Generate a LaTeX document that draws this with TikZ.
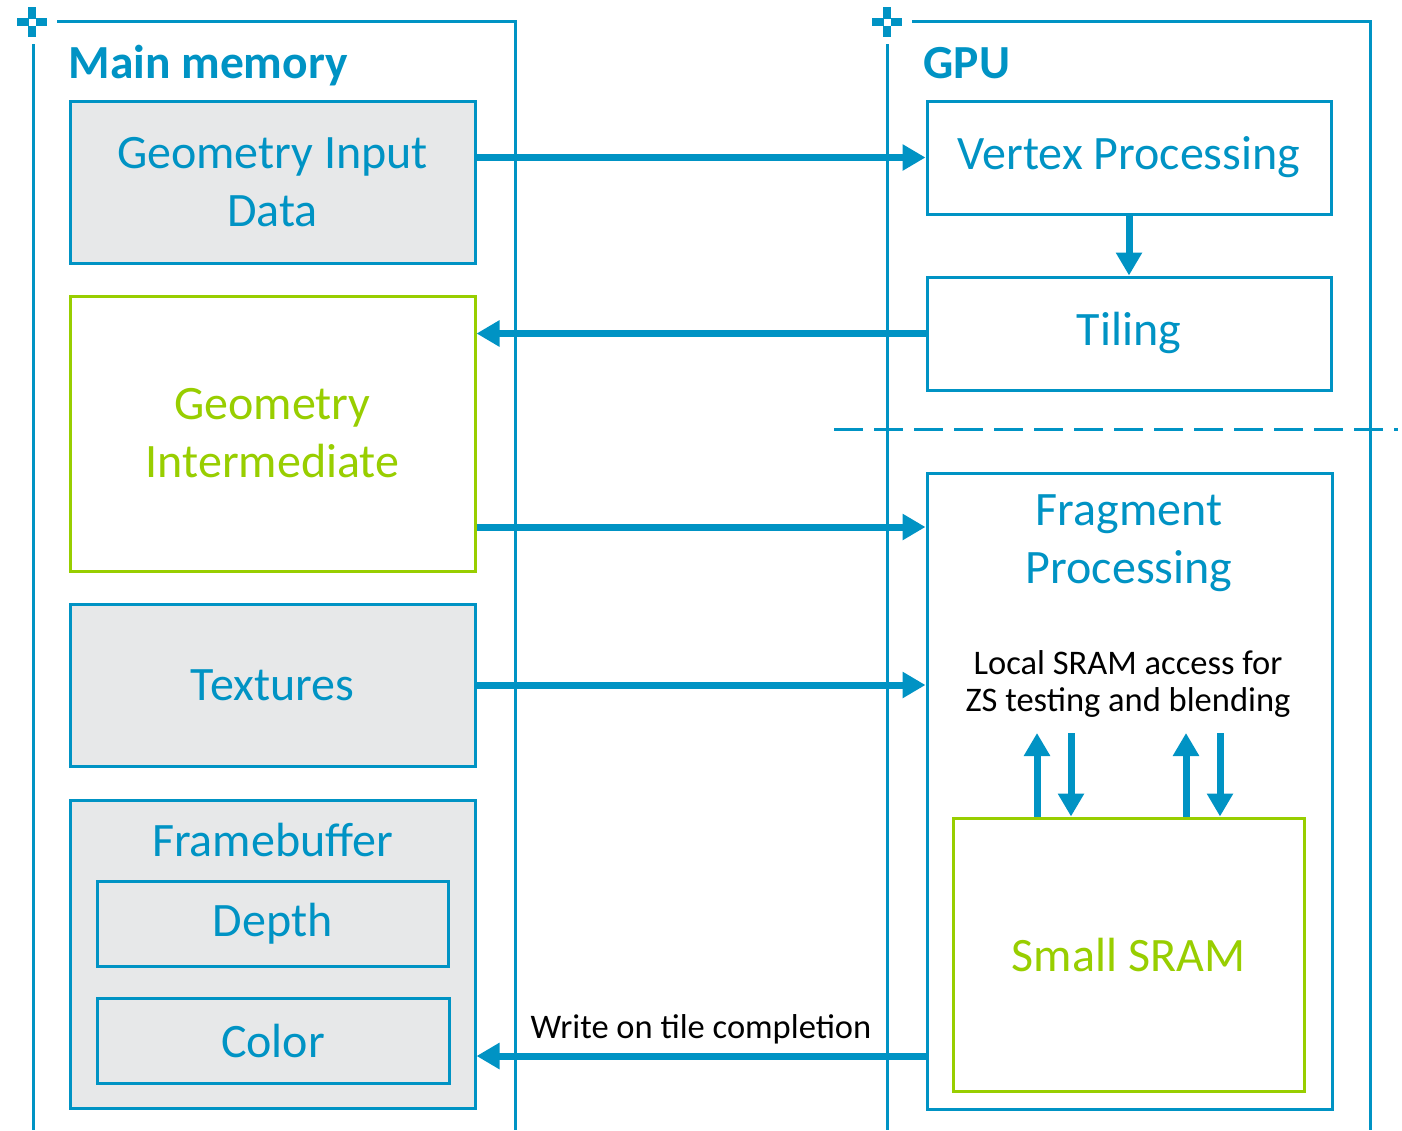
\documentclass[tikz,border=0pt]{standalone}
\usepackage{fontspec}
\setmainfont{Carlito}
\usetikzlibrary{positioning,arrows.meta}
\definecolor{nvblue}{RGB}{0,147,196}
\definecolor{nvgreen}{RGB}{152,206,0}
\definecolor{boxgray}{RGB}{231,232,233}

\begin{document}
\begin{tikzpicture}[x=1pt,y=-1pt,
	box/.style={draw=nvblue,line width=3pt,fill=boxgray,text=nvblue,align=center,font=\fontsize{48}{58}\selectfont},
	gbox/.style={box,draw=nvgreen,fill=white,text=nvgreen},
	wbox/.style={box,fill=white},
	txt/.style={text=nvblue,align=center,font=\fontsize{48}{58}\selectfont},
	note/.style={text=black,align=center,font=\fontsize{34.5}{37}\selectfont},
	arr/.style={nvblue,line width=7pt,-{Triangle[length=23pt,width=25pt]}},
	lane/.style={nvblue,line width=3pt},
	title/.style={text=nvblue,font=\fontsize{47.5}{50}\selectfont\bfseries,anchor=base west},
	lanecross/.pic={\draw[nvblue,line width=8pt] (-15,0)--(-3.5,0) (3.5,0)--(15,0) (0,-15)--(0,-3.5) (0,3.5)--(0,15);}]
	\useasboundingbox (0,0) rectangle (1402,1130);
	% lanes
	\draw[lane] (33,44) -- (33,1130);
	\draw[lane] (57,21) -- (515,21) -- (515,1130);
	\pic at (32,22) {lanecross};
	\draw[lane] (887,44) -- (887,1130);
	\draw[lane] (912,21) -- (1370,21) -- (1370,1130);
	\pic at (887,22) {lanecross};
	\node[title] (mm) at (65,78) {Main memory};
	\node[title] (gpu) at (920,78) {GPU};
	\draw[lane,dash pattern=on 29pt off 11pt] (834,429) -- (1398,429);
	% main memory
	\node[box,minimum width=405,minimum height=162] (gid) at (272.5,182) {Geometry Input\\Data};
	\node[gbox,minimum width=405,minimum height=275] (gi) at (272.5,433.5) {Geometry\\Intermediate};
	\node[box,minimum width=405,minimum height=162] (tex) at (272.5,685) {Textures};
	\node[box,minimum width=405,minimum height=308] (fb) at (272.5,954) {};
	\node[txt] (fbt) at (272.5,840) {Framebuffer};
	\node[box,minimum width=351,minimum height=85] (dep) at (272.5,923.5) {Depth};
	\node[box,minimum width=352,minimum height=85] (col) at (273,1040.5) {Color};
	% gpu
	\node[wbox,minimum width=404,minimum height=113] (vp) at (1129,157.5) {Vertex Processing};
	\node[wbox,minimum width=404,minimum height=113] (til) at (1129,333.5) {Tiling\strut};
	\node[wbox,minimum width=405,minimum height=636] (frag) at (1129.5,791) {};
	\node[txt] (fragt) at (1129,543) {Fragment\\Processing};
	\node[note] (loc) at (1128,684) {Local SRAM access for\\ZS testing and blending};
	\node[gbox,minimum width=351,minimum height=273] (sram) at (1128.5,954.5) {Small SRAM};
	% arrows
	\draw[arr] (gid.east |- vp.west) -- (vp.west);
	\draw[arr] (vp.south) -- (til.north);
	\draw[arr] (til.west) -- (gi.east |- til.west);
	\draw[arr] (gi.east |- 0,527) -- (frag.west |- 0,527);
	\draw[arr] (tex.east) -- (tex.east -| frag.west);
	\draw[arr] (frag.west |- 0,1056) -- node[note,above,yshift=5pt] (wr) {Write on tile completion} (fb.east |- 0,1056);
	\foreach \x in {1037,1186} \draw[arr] (sram.north -| \x,0) -- (\x,733);
	\foreach \x in {1071,1220} \draw[arr] (\x,733) -- (sram.north -| \x,0);
\end{tikzpicture}
\end{document}
